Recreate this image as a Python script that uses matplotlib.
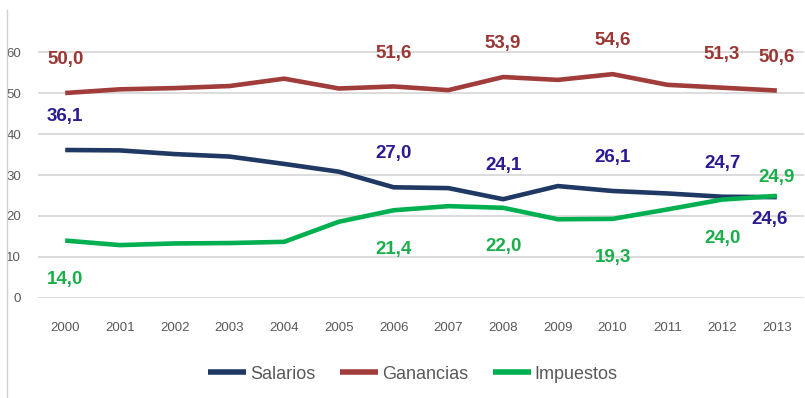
import matplotlib
matplotlib.use("Agg")
import matplotlib.pyplot as plt
from matplotlib.lines import Line2D

plt.rcParams["font.family"] = ["Liberation Sans", "DejaVu Sans"]

years = list(range(2000, 2014))
salarios = [36.1, 36.0, 35.1, 34.5, 32.7, 30.8, 27.0, 26.8, 24.1, 27.3, 26.1, 25.5, 24.7, 24.6]
ganancias = [50.0, 50.9, 51.2, 51.7, 53.5, 51.1, 51.6, 50.7, 53.9, 53.2, 54.6, 52.0, 51.3, 50.6]
impuestos = [14.0, 12.9, 13.3, 13.4, 13.7, 18.6, 21.4, 22.4, 22.0, 19.2, 19.3, 21.6, 24.0, 24.9]

labelled_years = [2000, 2006, 2008, 2010, 2012, 2013]

series = [
    ("Salarios", salarios, "#1F3864", "#2B1B93"),
    ("Ganancias", ganancias, "#A03C3A", "#9A3634"),
    ("Impuestos", impuestos, "#00B050", "#1BAF4B"),
]

# label offsets in points (dx, dy) per series, with a few exceptions
offsets = {
    "Salarios": {y: (0, 24) for y in labelled_years},
    "Ganancias": {y: (0, 24) for y in labelled_years},
    "Impuestos": {y: (0, -28) for y in labelled_years},
}
offsets["Salarios"][2013] = (-5, -16)
offsets["Impuestos"][2013] = (0, 13)

fig = plt.figure(figsize=(8.05, 3.98), dpi=100)
ax = fig.add_axes([0.047, 0.2513, 0.952, 0.721])

for name, vals, lc, tc in series:
    ax.plot(years, vals, color=lc, lw=3.3, label=name, solid_capstyle="butt", zorder=3)
    for yr in labelled_years:
        v = vals[years.index(yr)]
        dx, dy = offsets[name][yr]
        ax.annotate(f"{v:.1f}".replace(".", ","), (yr, v), xytext=(dx, dy),
                    textcoords="offset points", ha="center", va="center",
                    color=tc, fontsize=13.5, fontweight="bold", zorder=4)

ax.set_xlim(1999.5, 2013.5)
ax.set_ylim(0, 70)
ax.set_yticks(range(0, 61, 10))
ax.set_xticks(years)
ax.grid(axis="y", color="#D9D9D9", lw=1.3)
ax.set_axisbelow(True)
for s in ax.spines.values():
    s.set_visible(False)
ax.tick_params(axis="both", length=0, colors="#595959", labelsize=9.5)
ax.tick_params(axis="x", pad=17)
ax.tick_params(axis="y", pad=12)

fig.add_artist(Line2D([7 / 805, 7 / 805], [0, 0.975], color="#D0D0D0", lw=1))

leg = fig.legend(loc="center", bbox_to_anchor=(0.513, 0.06), ncol=3, frameon=False,
                 fontsize=13, handlelength=2.1, handletextpad=0.2, columnspacing=1.4,
                 labelcolor="#595959")
for h in leg.get_lines():
    h.set_linewidth(4)

fig.savefig("out.png", dpi=100)
